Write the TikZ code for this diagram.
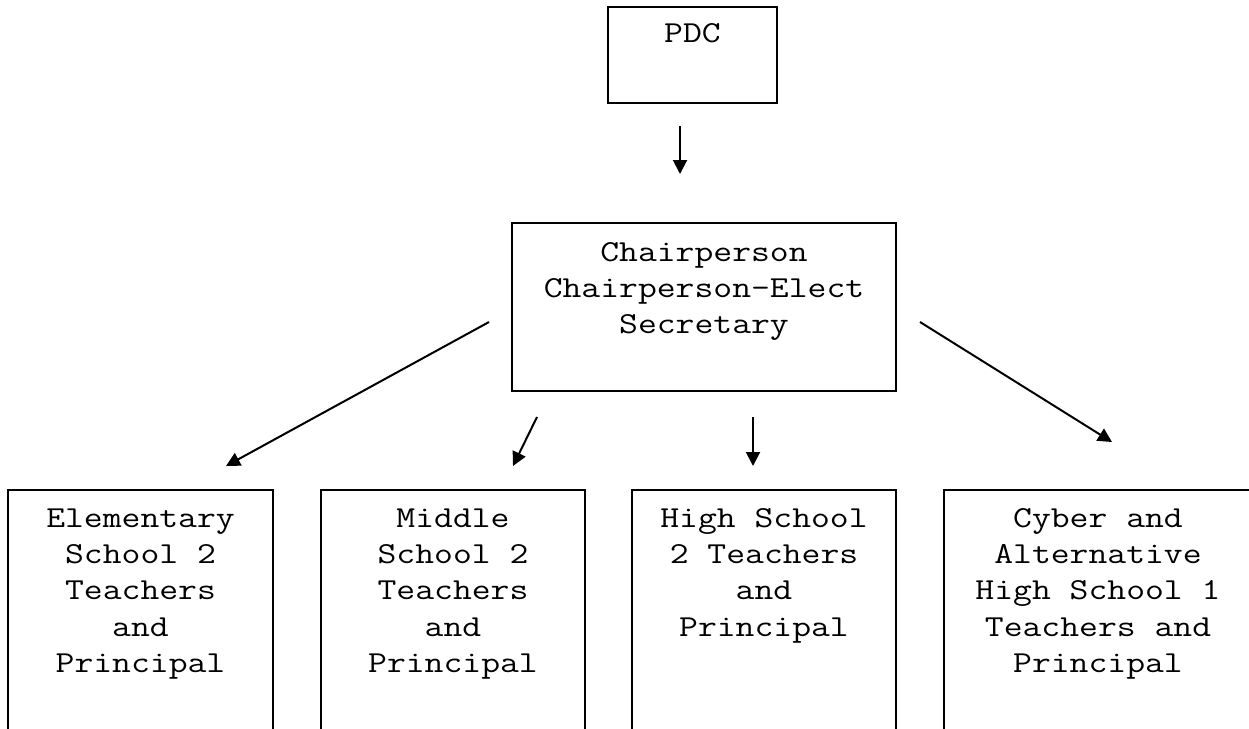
\documentclass[tikz,border=0pt]{standalone}
\usepackage{fontspec}
\newfontfamily\courfont{Latin Modern Mono}[FakeStretch=1.2]
\usetikzlibrary{arrows.meta}
\tikzset{
  box/.style={draw, line width=1.8pt, inner sep=0pt},
  lbl/.style={anchor=north, align=center, inner sep=0pt, font=\courfont\fontsize{30.5}{36.3}\selectfont},
  conn/.style={line width=2pt, -{Triangle[length=14pt,width=14pt]}}
}
\begin{document}
\begin{tikzpicture}[x=1pt, y=-1pt]
\useasboundingbox (0,0) rectangle (1249,728);
\clip (0,0) rectangle (1249,728);
\fill[white] (0,0) rectangle (1249,728);
% boxes
\node[box, minimum width=169pt, minimum height=96pt] (pdc) at (692.5,55) {};
\node[box, minimum width=384pt, minimum height=168pt] (chair) at (704,307) {};
\node[box, minimum width=265pt, minimum height=280pt] (elem) at (140.5,630) {};
\node[box, minimum width=264pt, minimum height=280pt] (mid) at (453,630) {};
\node[box, minimum width=264pt, minimum height=280pt] (high) at (764,630) {};
\node[box, minimum width=308pt, minimum height=280pt] (cyber) at (1098,630) {};
% texts
\node[lbl] (tpdc) at ([yshift=-10.6pt]pdc.north) {\strut PDC};
\node[lbl] (tchair) at ([yshift=-13.6pt]chair.north) {\strut Chairperson\\Chairperson-Elect\\Secretary};
\node[lbl] (telem) at ([yshift=-12.6pt]elem.north) {\strut Elementary\\School 2\\Teachers\\and\\Principal};
\node[lbl] (tmid) at ([yshift=-12.6pt]mid.north) {\strut Middle\\School 2\\Teachers\\and\\Principal};
\node[lbl] (thigh) at ([yshift=-12.6pt]high.north) {\strut High School\\2 Teachers\\and\\Principal};
\node[lbl] (tcyber) at ([yshift=-12.6pt]cyber.north) {\strut Cyber and\\Alternative\\High School 1\\Teachers and\\Principal};
% arrow end points
\coordinate (a1s) at (680,126); \coordinate (a1e) at (680,174);
\coordinate (a2s) at (489,322); \coordinate (a2e) at (226,466);
\coordinate (a3s) at (537,417); \coordinate (a3e) at (513,466);
\coordinate (a4s) at (753,417); \coordinate (a4e) at (753,466);
\coordinate (a5s) at (920,322); \coordinate (a5e) at (1112,442);
\draw[conn] (a1s) -- (a1e);
\draw[conn] (a2s) -- (a2e);
\draw[conn] (a3s) -- (a3e);
\draw[conn] (a4s) -- (a4e);
\draw[conn] (a5s) -- (a5e);
\end{tikzpicture}
\end{document}
